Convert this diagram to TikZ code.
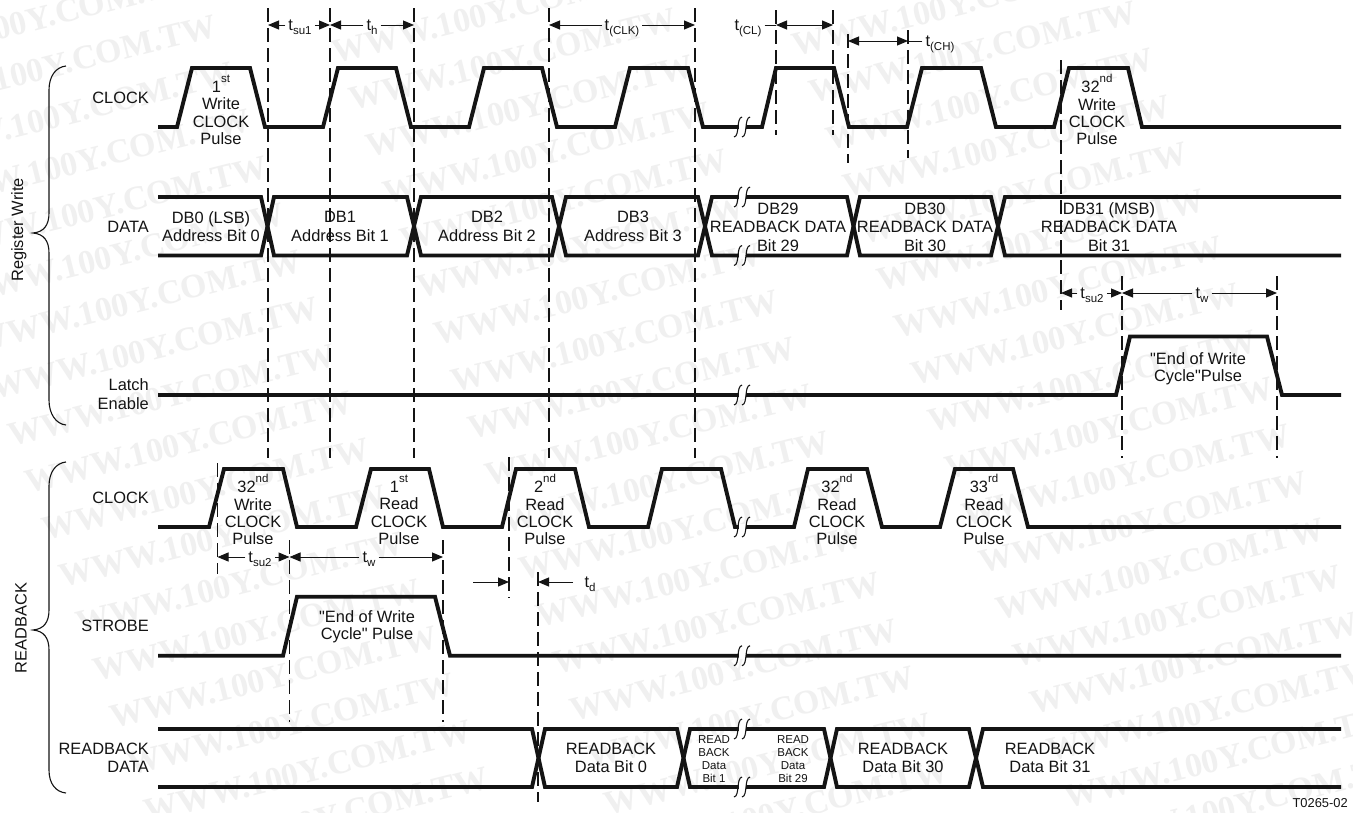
\documentclass[tikz,border=0pt]{standalone}
\usepackage{fontspec}
\setmainfont{Liberation Sans}[Ligatures=ResetAll]
\newfontfamily\wmfont{Liberation Serif}[BoldFont={Liberation Serif Bold}]
\newfontfamily\plainsans{Liberation Sans}
\usetikzlibrary{arrows.meta}
\newcommand{\sps}[1]{\smash{\raisebox{0.62em}{\fontsize{11.5}{12}\selectfont #1}}}
\newcommand{\tsb}[1]{t\smash{\raisebox{-0.28em}{\fontsize{11.5}{12}\selectfont #1}}}
\newcommand{\tbrk}[2]{%
  \fill[white] (#1+0.5,#2-3) rectangle (#1+7.5,#2+3);
  \draw[brk] (#1+4,#2-10) .. controls (#1-2,#2-9) and (#1+2,#2+9) .. (#1-4,#2+10);
  \draw[brk] (#1+12,#2-10) .. controls (#1+6,#2-9) and (#1+10,#2+9) .. (#1+4,#2+10);}
\definecolor{ink}{HTML}{141414}
\definecolor{wm}{HTML}{F0F0F0}
\tikzset{
  wave/.style={line width=3.9pt,draw=ink,miter limit=10},
  brk/.style={line width=1.1pt,draw=ink},
  guide/.style={line width=1.1pt,draw=ink,dash pattern=on 14pt off 6pt},
  dimline/.style={line width=1pt,draw=ink},
  dimtip/.style={dimline,-{Triangle[length=11pt,width=9pt]}},
  dimboth/.style={dimline,{Triangle[length=11pt,width=9pt]}-{Triangle[length=11pt,width=9pt]}},
  dimlabel/.style={font=\fontsize{16.4}{17}\selectfont,text=ink,text height=10pt,text depth=0pt,inner xsep=3pt,inner ysep=0pt},
  sig/.style={font=\fontsize{16.4}{18.5}\selectfont,text=ink,align=right,anchor=east,inner sep=0pt},
  txt/.style={font=\fontsize{16.4}{18.6}\selectfont,text=ink,align=center,inner sep=0pt},
  pulse/.style={font=\fontsize{16.4}{17.3}\selectfont,text=ink,align=center,inner sep=0pt},
  quoted/.style={font=\plainsans\fontsize{16.4}{17.3}\selectfont,text=ink,align=center,inner sep=0pt},
  tiny/.style={font=\fontsize{11.5}{13.1}\selectfont,text=ink,align=center,inner sep=0pt},
  brace/.style={line width=1.1pt,draw=ink},
  wmark/.style={font=\wmfont\bfseries\fontsize{34}{34}\selectfont,text=wm,rotate=14,inner sep=0pt}
}
\begin{document}
\begin{tikzpicture}[x=1pt,y=-1pt]
\useasboundingbox (0,0) rectangle (1353,812);
\fill[white] (0,0) rectangle (1353,812);
% faint repeated background print
\foreach \i in {0,...,2}{
  \foreach \j in {-9,...,9}{
    \pgfmathsetmacro{\wx}{172+\i*460+\j*17}
    \pgfmathsetmacro{\wy}{395-\i*7+\j*47}
    \pgfmathparse{(\wy>-30 && \wy<850) ? 1 : 0}
    \ifnum\pgfmathresult=1
      \node[wmark] (wm-\i-\j) at (\wx,\wy) {WWW.100Y.COM.TW};
    \fi
  }
}
% guide coordinates
\coordinate (g268) at (268,25);
\coordinate (g330) at (330,25);
\coordinate (g414) at (414,25);
\coordinate (g549) at (549,25);
\coordinate (g695) at (695,25);
\coordinate (g776) at (776,25);
\coordinate (g833) at (833,25);
\coordinate (g848) at (848,41);
\coordinate (g908) at (908,41);
\coordinate (g1061) at (1061,293);
\coordinate (g1122) at (1122,293);
\coordinate (g1277) at (1277,293);
\coordinate (g217) at (217.5,557);
\coordinate (g289) at (289.5,557);
\coordinate (g443) at (443,557);
\coordinate (g509) at (509,582);
\coordinate (g538) at (538,582);
\coordinate (fromL) at (473,582);
\coordinate (fromR) at (573,582);
% guides
\draw[guide] (268,8) -- (268,458);
\draw[guide] (330,8) -- (330,458);
\draw[guide] (414,8) -- (414,458);
\draw[guide] (549,8) -- (549,458);
\draw[guide] (695,8) -- (695,458);
\draw[guide] (776,10) -- (776,135);
\draw[guide] (833,10) -- (833,135);
\draw[guide] (848,34) -- (848,163);
\draw[guide] (908,30) -- (908,158);
\draw[guide] (1061,60) -- (1061,310);
\draw[guide] (1122,276) -- (1122,458);
\draw[guide] (1277,276) -- (1277,458);
\draw[guide] (217.5,463) -- (217.5,574);
\draw[guide] (289.5,540) -- (289.5,722);
\draw[guide] (443,540) -- (443,722);
\draw[guide] (509,457) -- (509,598);
\draw[guide] (538,572) -- (538,802);
% waveforms
\draw[wave] (158,127) -- (177,127) -- (192,68) -- (250,68) -- (265,127) -- (323,127) -- (338,68) -- (396,68) -- (411,127) -- (469,127) -- (484,68) -- (542,68) -- (557,127) -- (615,127) -- (630,68) -- (688,68) -- (703,127) -- (762,127) -- (776,68) -- (834,68) -- (849,127) -- (907,127) -- (922,68) -- (981,68) -- (996,127) -- (1054,127) -- (1069,68) -- (1128,68) -- (1142,127) -- (1341,127);
\draw[wave] (158,197) -- (261,197) -- (274,255.5) -- (407,255.5) -- (421,197) -- (552,197) -- (566,255.5) -- (698,255.5) -- (712,197) -- (847,197) -- (860,255.5) -- (991,255.5) -- (1005,197) -- (1341,197);
\draw[wave] (158,255.5) -- (261,255.5) -- (274,197) -- (407,197) -- (421,255.5) -- (552,255.5) -- (566,197) -- (698,197) -- (712,255.5) -- (847,255.5) -- (860,197) -- (991,197) -- (1005,255.5) -- (1341,255.5);
\draw[wave] (158,395) -- (1116,395) -- (1130,336.5) -- (1267,336.5) -- (1282,395) -- (1341,395);
\draw[wave] (158,527) -- (209,527) -- (224,469) -- (283,469) -- (297,527) -- (356,527) -- (371,469) -- (429,469) -- (443,527) -- (502,527) -- (516,469) -- (575,469) -- (589,527) -- (648,527) -- (662,469) -- (721,469) -- (735,527) -- (794,527) -- (808,469) -- (867,469) -- (882,527) -- (940,527) -- (955,469) -- (1013,469) -- (1028,527) -- (1341,527);
\draw[wave] (158,655.7) -- (283,655.7) -- (297,596.7) -- (435,596.7) -- (450,655.7) -- (1341,655.7);
\draw[wave] (158,729) -- (532,729) -- (545,787) -- (677,787) -- (690,729) -- (824,729) -- (837,787) -- (969,787) -- (983,729) -- (1341,729);
\draw[wave] (158,787) -- (532,787) -- (545,729) -- (677,729) -- (690,787) -- (824,787) -- (837,729) -- (969,729) -- (983,787) -- (1341,787);
% breaks
\tbrk{738}{127}
\tbrk{738}{197}
\tbrk{738}{255.5}
\tbrk{738}{395}
\tbrk{738}{527}
\tbrk{738}{655.7}
\tbrk{738}{729}
\tbrk{738}{787}
% row labels
\node[sig] (lclk1) at (149,98) {CLOCK};
\node[sig] (ldata) at (149,227) {DATA};
\node[sig] (llatch) at (149,394) {Latch\\Enable};
\node[sig] (lclk2) at (149,498) {CLOCK};
\node[sig] (lstrobe) at (149,626) {STROBE};
\node[sig] (lrbd) at (149,758) {READBACK\\DATA};
\node[font=\fontsize{16.4}{17}\selectfont,text=ink,rotate=90,inner sep=0pt] (lreg) at (19,230) {Register Write};
\node[font=\fontsize{16.4}{17}\selectfont,text=ink,rotate=90,inner sep=0pt] (lrb) at (21,628) {READBACK};
% braces
\draw[brace] (66,66) .. controls (56,67) and (49,76) .. (49,90) -- (49,213) .. controls (49,225) and (44,232) .. (33,233) .. controls (44,234) and (49,241) .. (49,253) -- (49,400) .. controls (49,414) and (56,424) .. (66,425);
\draw[brace] (66,462) .. controls (56,463) and (49,472) .. (49,486) -- (49,610) .. controls (49,622) and (44,629) .. (33,630) .. controls (44,631) and (49,638) .. (49,650) -- (49,770) .. controls (49,784) and (56,792) .. (66,793);
% pulse texts
\node[pulse] (p1) at (221,113) {1\sps{st}\\Write\\CLOCK\\Pulse};
\node[pulse] (p32) at (1097,113) {32\sps{nd}\\Write\\CLOCK\\Pulse};
\node[pulse] (q32) at (253,513) {32\sps{nd}\\Write\\CLOCK\\Pulse};
\node[pulse] (q1) at (399,513) {1\sps{st}\\Read\\CLOCK\\Pulse};
\node[pulse] (q2) at (545,513) {2\sps{nd}\\Read\\CLOCK\\Pulse};
\node[pulse] (q32r) at (837,513) {32\sps{nd}\\Read\\CLOCK\\Pulse};
\node[pulse] (q33r) at (984,513) {33\sps{rd}\\Read\\CLOCK\\Pulse};
\fill[white] (232,543.5) rectangle (274,552);
% data texts
\node[txt] (d0) at (211,226.5) {DB0 (LSB)\\Address Bit 0};
\node[txt] (d1) at (340,226.5) {DB1\\Address Bit 1};
\node[txt] (d2) at (487,226.5) {DB2\\Address Bit 2};
\node[txt] (d3) at (633,226.5) {DB3\\Address Bit 3};
\node[txt] (d29) at (778,227) {DB29\\READBACK DATA\\Bit 29};
\node[txt] (d30) at (925,227) {DB30\\READBACK DATA\\Bit 30};
\node[txt] (d31) at (1109,227) {DB31 (MSB)\\READBACK DATA\\Bit 31};
\node[quoted] (e1) at (1198,369) {"End of Write\\Cycle"Pulse};
\node[quoted] (e2) at (367,626.5) {"End of Write\\Cycle" Pulse};
\node[txt] (r0) at (611,758) {READBACK\\Data Bit 0};
\node[tiny] (r1) at (714,759) {READ\\BACK\\Data\\Bit 1};
\node[tiny] (r29) at (793,759) {READ\\BACK\\Data\\Bit 29};
\node[txt] (r30) at (903,758) {READBACK\\Data Bit 30};
\node[txt] (r31) at (1050,758) {READBACK\\Data Bit 31};
\node[font=\fontsize{12.9}{14}\selectfont,text=ink,anchor=east,inner sep=0pt] (fig) at (1348,803) {T0265-02};
% dimension labels and arrows
\node[dimlabel] (tsu1) at (300,25) {\tsb{su1}};
\draw[dimtip] (tsu1) -- (g268);
\draw[dimtip] (tsu1) -- (g330);
\node[dimlabel] (th) at (372,25) {\tsb{h}};
\draw[dimtip] (th) -- (g330);
\draw[dimtip] (th) -- (g414);
\node[dimlabel] (tclk) at (622,25) {\tsb{(CLK)}};
\draw[dimtip] (tclk) -- (g549);
\draw[dimtip] (tclk) -- (g695);
\node[dimlabel] (tcl) at (748,25) {\tsb{(CL)}};
\draw[dimline] (tcl) -- (g776);
\draw[dimboth] (g776) -- (g833);
\node[dimlabel] (tch) at (940,41) {\tsb{(CH)}};
\draw[dimline] (tch) -- (g908);
\draw[dimboth] (g848) -- (g908);
\node[dimlabel] (tsu2a) at (1092,293) {\tsb{su2}};
\draw[dimtip] (tsu2a) -- (g1061);
\draw[dimtip] (tsu2a) -- (g1122);
\node[dimlabel] (twa) at (1202,293) {\tsb{w}};
\draw[dimtip] (twa) -- (g1122);
\draw[dimtip] (twa) -- (g1277);
\node[dimlabel] (tsu2b) at (260,557) {\tsb{su2}};
\draw[dimtip] (tsu2b) -- (g217);
\draw[dimtip] (tsu2b) -- (g289);
\node[dimlabel] (twb) at (369,557) {\tsb{w}};
\draw[dimtip] (twb) -- (g289);
\draw[dimtip] (twb) -- (g443);
\draw[dimtip] (fromL) -- (g509);
\draw[dimtip] (fromR) -- (g538);
\node[dimlabel] (td) at (590,582) {\tsb{d}};
\end{tikzpicture}
\end{document}
